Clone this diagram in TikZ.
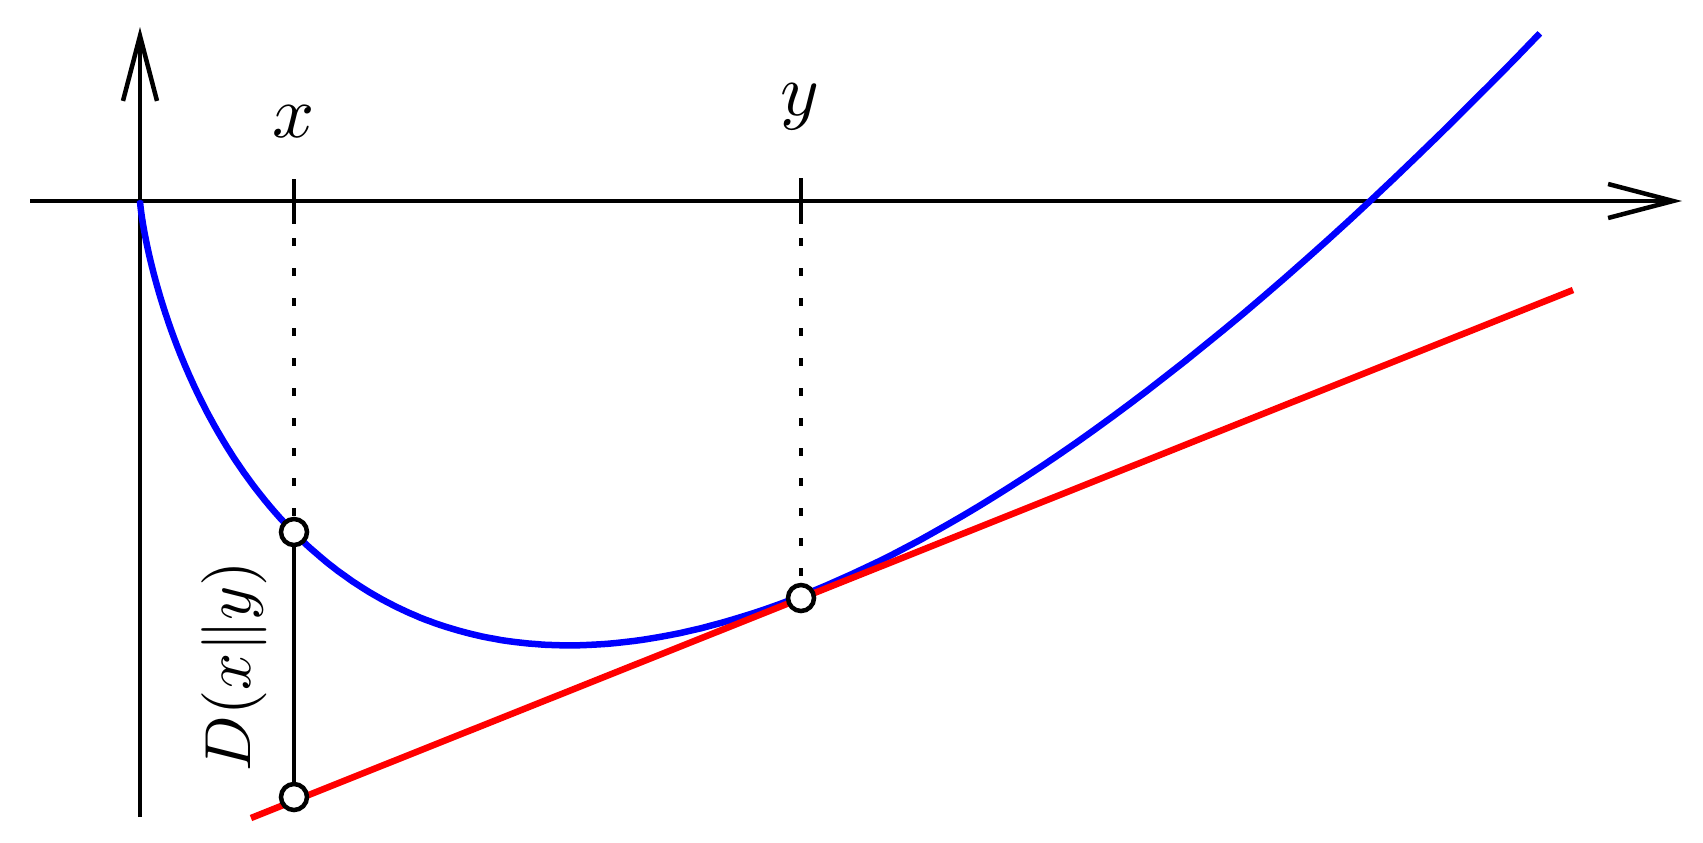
\documentclass[tikz,border=0pt]{standalone}
\usetikzlibrary{arrows.meta}
\begin{document}
\begin{tikzpicture}[x=0.01cm,y=-0.01cm,
  declare function={
    gg(\u)=\u+\u*\u/2+\u*\u*\u/6+\u*\u*\u*\u/24+\u*\u*\u*\u*\u/120+\u*\u*\u*\u*\u*\u/720;
  },
  axis/.style={line width=0.45mm, -{Straight Barb[length=6.5mm,width=3.4mm]}},
  curve/.style={line width=0.65mm, blue, line join=round},
  tangent/.style={line width=0.65mm, red},
  tick/.style={line width=0.45mm},
  dotline/.style={line width=0.45mm, dash pattern=on 0.083cm off 0.217cm, dash phase=0.16cm},
  pt/.style={circle, draw, fill=white, line width=0.45mm, minimum size=0.26cm, inner sep=0pt},
  lbl/.style={anchor=base, inner sep=0pt},
  dlbl/.style={anchor=base, rotate=90, inner sep=0pt}]
\useasboundingbox (0,0) rectangle (1703,842);
% axes
\coordinate (xs) at (30,201);
\coordinate (xe) at (1682,201);
\coordinate (ys) at (140,817);
\coordinate (ye) at (140,27);
\draw[axis] (xs) -- (xe);
\draw[axis] (ys) -- (ye);
% convex function, parametrised by L = ln s
\draw[curve] (140,201) -- plot[domain=-9:0.1329, samples=500, variable=\L]
  ({140+1230*exp(\L)}, {201+11470*exp(\L)*gg(-0.1*\L)});
% tangent line
\coordinate (ts) at (251,818);
\coordinate (te) at (1573,290);
\draw[tangent] (ts) -- (te);
% ticks
\coordinate (xt1) at (294,179);
\coordinate (xt2) at (294,224);
\coordinate (yt1) at (801,178);
\coordinate (yt2) at (801,224);
\draw[tick] (xt1) -- (xt2);
\draw[tick] (yt1) -- (yt2);
% points
\node[pt] (px) at (294,532) {};
\node[pt] (pl) at (294,797) {};
\node[pt] (py) at (801,598) {};
\draw[dotline] (xt2) -- (px);
\draw[dotline] (yt2) -- (py);
\draw[line width=0.45mm] (px) -- (pl);
% labels
\node[lbl] (lx) at (294,137) {\scalebox{2.1}{$x$}};
\node[lbl] (ly) at (800,115) {\scalebox{2.1}{$y$}};
\node[dlbl] (ld) at (250,666) {\scalebox{1.85}{$D(x\|y)$}};
\end{tikzpicture}
\end{document}
